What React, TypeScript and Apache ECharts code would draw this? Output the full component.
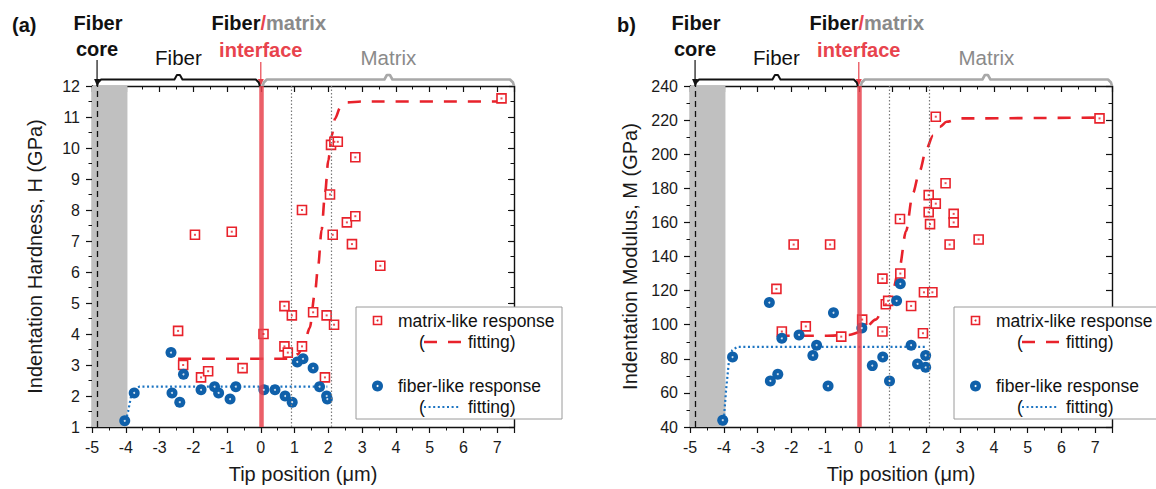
import React, { useEffect, useRef } from 'react';
import * as echarts from 'echarts';

// ---------- data ----------
const X_RANGE = [-5, 7.5];
const HARDNESS_RANGE = [1, 12];
const MODULUS_RANGE = [40, 240];

const CORE_X = -4.85;
const CORE_SHADE = [-5, -3.95];
const INTERFACE_X = 0;
const ZONE_X = [0.9, 2.1];

// Panel (a): indentation hardness (GPa)
const matrixHardness: number[][] = [
  [-2.45, 4.1], [-2.3, 3.0], [-1.95, 7.2], [-1.77, 2.6], [-1.56, 2.8], [-0.86, 7.3], [-0.54, 2.9],
  [0.08, 4.0], [0.7, 4.9], [0.92, 4.6], [0.7, 3.6], [0.8, 3.4], [1.22, 8.0], [1.22, 3.6], [1.55, 4.7],
  [1.9, 2.6], [1.95, 4.6], [2.17, 4.3], [2.05, 8.5], [2.13, 7.2], [2.08, 10.1], [2.18, 10.2], [2.28, 10.2],
  [2.8, 9.7], [2.55, 7.6], [2.8, 7.8], [2.7, 6.9], [3.54, 6.2], [7.13, 11.6],
];
const fiberHardness: number[][] = [
  [-4.03, 1.2], [-3.75, 2.1], [-2.66, 3.4], [-2.63, 2.1], [-2.4, 1.8], [-2.29, 2.7], [-1.77, 2.2],
  [-1.37, 2.3], [-1.25, 2.1], [-0.91, 1.9], [-0.74, 2.3], [0.09, 2.2], [0.42, 2.2], [0.72, 2.0],
  [0.93, 1.8], [1.08, 3.1], [1.25, 3.2], [1.55, 2.9], [1.74, 2.3], [1.95, 2.0], [1.97, 1.9],
];
const matrixHardnessFit: number[][] = [
  [-2.45, 3.2], [0.9, 3.2], [1.1, 3.35], [1.3, 3.75], [1.45, 4.2], [1.6, 5.3], [1.7, 6.2], [1.8, 7.35],
  [1.9, 8.5], [2.0, 9.6], [2.1, 10.4], [2.2, 10.95], [2.35, 11.3], [2.55, 11.47], [3.0, 11.5], [7.1, 11.5],
];
const fiberHardnessFit: number[][] = [
  [-4.0, 1.2], [-3.93, 1.5], [-3.85, 1.95], [-3.75, 2.2], [-3.6, 2.3], [1.97, 2.3],
];

// Panel (b): indentation modulus (GPa)
const matrixModulus: number[][] = [
  [-2.44, 121], [-2.28, 96], [-1.93, 147], [-1.57, 99], [-0.85, 147], [-0.52, 93], [0.1, 103],
  [0.7, 127], [0.7, 96], [0.8, 112], [0.87, 114], [1.22, 162], [1.23, 130], [1.55, 111], [1.9, 95],
  [1.93, 119], [2.18, 119], [2.07, 176], [2.07, 166], [2.11, 159], [2.28, 171], [2.28, 222],
  [2.57, 183], [2.81, 165], [2.81, 160], [2.69, 147], [3.55, 150], [7.13, 221],
];
const fiberModulus: number[][] = [
  [-4.03, 44], [-3.74, 81], [-2.65, 113], [-2.62, 67], [-2.4, 71], [-2.28, 92], [-1.77, 94],
  [-1.36, 82], [-1.25, 88], [-0.91, 64], [-0.75, 107], [0.09, 98], [0.4, 76], [0.71, 81],
  [0.91, 67], [1.12, 114], [1.23, 124], [1.55, 88], [1.74, 77], [1.98, 82], [1.98, 75],
];
const matrixModulusFit: number[][] = [
  [-2.43, 93.5], [-1.0, 93.5], [-0.3, 94], [0.1, 96], [0.5, 103], [0.8, 112], [1.0, 120], [1.2, 133],
  [1.4, 155], [1.6, 177], [1.8, 190], [2.0, 203], [2.2, 211], [2.4, 216], [2.6, 219], [3.0, 221], [7.1, 221.5],
];
const fiberModulusFit: number[][] = [
  [-4.0, 44], [-3.93, 62], [-3.85, 78], [-3.75, 85], [-3.6, 87], [1.97, 87],
];

const Y_TITLES = ['Indentation Hardness, H (GPa)', 'Indentation Modulus, M (GPa)'];
const X_TITLE = 'Tip position (\u03bcm)';
const PANEL_LABELS = ['(a)', 'b)'];

// ---------- style ----------
const FONT = '"Liberation Sans", Arial, Helvetica, sans-serif';
const RED = '#e8222b';
const BLUE = '#0f60aa';
const FIT_BLUE = '#1c74c2';
const IFACE = '#e8434d';
const GRAY_TXT = '#8a8a8a';
const INK = '#111';

const GRID_LEFT = [92, 690];
const GRID_TOP = 86;
const GRID_W = 422;
const GRID_H = 341;

export default function App() {
  const ref = useRef<HTMLDivElement>(null);

  useEffect(() => {
    if (!ref.current) return;
    const chart = echarts.init(ref.current, undefined, { renderer: 'svg' });

    const tick = { length: 6, lineStyle: { color: INK, width: 1.2 } };
    const minor = { show: true, splitNumber: 2, length: 3.5, lineStyle: { color: INK, width: 1 } };
    const axLine = { show: true, onZero: false, lineStyle: { color: INK, width: 1.4 } };

    const xAxes: any[] = [];
    const yAxes: any[] = [];
    [0, 1].forEach((g) => {
      const base = {
        type: 'value', gridIndex: g, min: X_RANGE[0], max: X_RANGE[1], interval: 1,
        splitLine: { show: false }, axisLine: axLine, minorTick: minor,
      };
      xAxes.push({
        ...base, position: 'bottom',
        axisTick: { ...tick, inside: false },
        axisLabel: {
          margin: 12, fontSize: 16, color: '#1a1a1a', fontFamily: FONT,
          formatter: (v: number) => (Number.isInteger(v) ? String(v) : ''),
        },
        name: X_TITLE, nameLocation: 'middle', nameGap: 37,
        nameTextStyle: { fontSize: 20, fontFamily: FONT, color: '#1a1a1a' },
      });
      xAxes.push({
        ...base, position: 'top', axisTick: { ...tick, inside: true }, axisLabel: { show: false },
      });
      const yr = g === 0 ? HARDNESS_RANGE : MODULUS_RANGE;
      const yb = {
        type: 'value', gridIndex: g, min: yr[0], max: yr[1], interval: g === 0 ? 1 : 20,
        splitLine: { show: false }, axisLine: axLine, minorTick: minor,
      };
      yAxes.push({
        ...yb, position: 'left', axisTick: { ...tick, inside: false },
        axisLabel: { margin: 12, fontSize: 16, color: '#1a1a1a', fontFamily: FONT },
        name: Y_TITLES[g], nameLocation: 'middle', nameGap: g === 0 ? 47 : 50,
        nameTextStyle: { fontSize: 20, fontFamily: FONT, color: '#1a1a1a' },
      });
      yAxes.push({
        ...yb, position: 'right', axisTick: { ...tick, inside: true }, axisLabel: { show: false },
      });
    });

    const series: any[] = [];
    const panels = [
      { m: matrixHardness, f: fiberHardness, mf: matrixHardnessFit, ff: fiberHardnessFit },
      { m: matrixModulus, f: fiberModulus, mf: matrixModulusFit, ff: fiberModulusFit },
    ];
    panels.forEach((p, g) => {
      const ax = { xAxisIndex: 2 * g, yAxisIndex: 2 * g };
      series.push({
        type: 'scatter', ...ax, data: [], z: 1, silent: true,
        markArea: {
          silent: true,
          itemStyle: { color: '#c0c0c0' },
          data: [[{ xAxis: CORE_SHADE[0] }, { xAxis: CORE_SHADE[1] }]],
        },
      });
      series.push({
        type: 'line', ...ax, data: [], z: 2, silent: true,
        markLine: {
          silent: true, symbol: ['none', 'none'], label: { show: false },
          data: [
            { xAxis: CORE_X, lineStyle: { color: INK, width: 1.3, type: [6, 4], opacity: 1 } },
            { xAxis: ZONE_X[0], lineStyle: { color: '#7a7a7a', width: 1.2, type: [1.5, 2], opacity: 1 } },
            { xAxis: ZONE_X[1], lineStyle: { color: '#7a7a7a', width: 1.2, type: [1.5, 2], opacity: 1 } },
            { xAxis: INTERFACE_X, lineStyle: { color: IFACE, width: 4.5, type: 'solid', opacity: 0.85 } },
          ],
        },
      });
      series.push({
        type: 'line', ...ax, data: p.ff, z: 3, symbol: 'none', showSymbol: false,
        lineStyle: { color: FIT_BLUE, width: 2.2, type: [2, 2.6] },
      });
      series.push({
        type: 'line', ...ax, data: p.mf, z: 3, symbol: 'none', showSymbol: false,
        smooth: 0.3, smoothMonotone: 'x',
        lineStyle: { color: RED, width: 2.6, type: [13, 11] },
      });
      series.push({
        type: 'scatter', ...ax, data: p.m, z: 4, symbol: 'rect', symbolSize: 9,
        itemStyle: { color: '#fff', borderColor: RED, borderWidth: 1.6, opacity: 1 },
      });
      series.push({
        type: 'scatter', ...ax, data: p.m, z: 5, symbol: 'rect', symbolSize: 2, silent: true,
        itemStyle: { color: RED },
      });
      series.push({
        type: 'scatter', ...ax, data: p.f, z: 4, symbol: 'circle', symbolSize: 11,
        itemStyle: { color: BLUE, opacity: 1 },
      });
      series.push({
        type: 'scatter', ...ax, data: p.f, z: 5, symbol: 'circle', symbolSize: 2, silent: true,
        itemStyle: { color: '#fff' },
      });
    });

    chart.setOption({
      animation: false,
      backgroundColor: '#fff',
      grid: GRID_LEFT.map((l) => ({ left: l, top: GRID_TOP, width: GRID_W, height: GRID_H })),
      xAxis: xAxes,
      yAxis: yAxes,
      series,
    });

    // ---------- annotations ----------
    const toPx = (g: number, x: number, y: number): number[] => {
      const yr = g === 0 ? HARDNESS_RANGE : MODULUS_RANGE;
      let r: any = null;
      try {
        r = chart.convertToPixel({ xAxisIndex: 2 * g, yAxisIndex: 2 * g } as any, [x, y]);
      } catch (e) { r = null; }
      if (!r || isNaN(r[0])) {
        r = [
          GRID_LEFT[g] + ((x - X_RANGE[0]) / (X_RANGE[1] - X_RANGE[0])) * GRID_W,
          GRID_TOP + ((yr[1] - y) / (yr[1] - yr[0])) * GRID_H,
        ];
      }
      return r;
    };

    const Z = 100;
    const txt = (x: number, y: number, text: string, font: string, fill: string, align = 'center', extra: any = {}) => ({
      type: 'text', x, y, z: Z,
      style: {
        text, font, fill, align, textAlign: align, verticalAlign: 'middle', textVerticalAlign: 'middle', ...extra,
      },
    });
    const BOLD20 = `bold 20px ${FONT}`;
    const REG20 = `20.5px ${FONT}`;
    const LEG = `17.5px ${FONT}`;

    const els: any[] = [];
    [0, 1].forEach((g) => {
      const ymax = g === 0 ? HARDNESS_RANGE[1] : MODULUS_RANGE[1];
      const top = toPx(g, 0, ymax)[1];
      const xCore = toPx(g, CORE_X, ymax)[0];
      const xIf = toPx(g, INTERFACE_X, ymax)[0];
      const xEnd = toPx(g, X_RANGE[1], ymax)[0];
      const gl = GRID_LEFT[g];
      const yb = top - 6.5;

      // panel label
      els.push(txt(g === 0 ? 12 : 617, 25, PANEL_LABELS[g], BOLD20, INK, 'left'));
      // Fiber core
      els.push(txt(xCore + 1, 23, 'Fiber', BOLD20, INK));
      els.push(txt(xCore, 49, 'core', BOLD20, INK));
      // Fiber/matrix interface
      els.push({
        type: 'text', x: xIf + 8, y: 23, z: Z,
        style: {
          text: '{k|Fiber}{r|/}{g|matrix}', font: BOLD20, fill: INK,
          align: 'center', textAlign: 'center', verticalAlign: 'middle', textVerticalAlign: 'middle',
          rich: {
            k: { fill: INK, color: INK, font: BOLD20 },
            r: { fill: IFACE, color: IFACE, font: BOLD20 },
            g: { fill: GRAY_TXT, color: GRAY_TXT, font: BOLD20 },
          },
        },
      });
      els.push(txt(xIf, 50, 'interface', BOLD20, IFACE));

      // arrows
      const arrow = (x: number, y0: number, color: string) => {
        els.push({ type: 'line', z: Z, shape: { x1: x, y1: y0, x2: x, y2: top - 5 }, style: { stroke: color, lineWidth: 1.2 } });
        els.push({ type: 'polygon', z: Z, shape: { points: [[x - 3, top - 7], [x + 3, top - 7], [x, top]] }, style: { fill: color } });
      };
      arrow(xCore, 60, INK);
      arrow(xIf, 62, IFACE);

      // brackets
      const bracket = (x0: number, x1: number, color: string, w: number) => {
        const xm = (x0 + x1) / 2;
        els.push({
          type: 'polyline', z: Z,
          shape: {
            points: [
              [x0, top], [x0 + 1, yb + 3], [x0 + 4, yb], [xm - 4, yb], [xm - 1.5, yb - 4.5], [xm + 1.5, yb - 4.5],
              [xm + 4, yb], [x1 - 4, yb], [x1 - 1, yb + 3], [x1, top],
            ],
          },
          style: { stroke: color, lineWidth: w, fill: null, lineJoin: 'round' },
        });
        return xm;
      };
      const xmF = bracket(xCore, xIf - 1, INK, 2);
      const xmM = bracket(xIf + 2, xEnd, '#a8a8a8', 2.6);
      els.push(txt(xmF, 57, 'Fiber', REG20, INK));
      els.push(txt(xmM, 57, 'Matrix', REG20, GRAY_TXT));

      // legend
      const lx = gl + 264;
      const ly = 307;
      els.push({
        type: 'rect', z: Z, shape: { x: lx, y: ly, width: 206, height: 112 },
        style: { fill: '#fff', stroke: '#9a9a9a', lineWidth: 1 },
      });
      els.push({
        type: 'rect', z: Z, shape: { x: lx + 17.5, y: 316.5, width: 8, height: 8 },
        style: { fill: '#fff', stroke: RED, lineWidth: 1.6 },
      });
      els.push({ type: 'circle', z: Z, shape: { cx: lx + 21.5, cy: 320.5, r: 1 }, style: { fill: RED } });
      els.push(txt(lx + 42, 321, 'matrix-like response', LEG, INK, 'left'));
      els.push(txt(lx + 63, 342, '(', LEG, INK, 'left'));
      els.push({
        type: 'line', z: Z, shape: { x1: lx + 68, y1: 342, x2: lx + 105, y2: 342 },
        style: { stroke: RED, lineWidth: 2.6, lineDash: [13, 11] },
      });
      els.push(txt(lx + 112, 342, 'fitting)', LEG, INK, 'left'));

      els.push({ type: 'circle', z: Z, shape: { cx: lx + 21.5, cy: 386, r: 5.5 }, style: { fill: BLUE } });
      els.push({ type: 'circle', z: Z, shape: { cx: lx + 21.5, cy: 386, r: 1 }, style: { fill: '#fff' } });
      els.push(txt(lx + 42, 386, 'fiber-like response', LEG, INK, 'left'));
      els.push(txt(lx + 63, 407, '(', LEG, INK, 'left'));
      els.push({
        type: 'line', z: Z, shape: { x1: lx + 68, y1: 407, x2: lx + 104, y2: 407 },
        style: { stroke: FIT_BLUE, lineWidth: 2.2, lineDash: [2, 2.6] },
      });
      els.push(txt(lx + 112, 407, 'fitting)', LEG, INK, 'left'));
    });

    chart.setOption({ graphic: { elements: els } });

    return () => chart.dispose();
  }, []);

  return (
    <div
      ref={ref}
      style={{ position: 'absolute', left: 0, top: 0, width: 1156, height: 489, background: '#fff' }}
    />
  );
}
